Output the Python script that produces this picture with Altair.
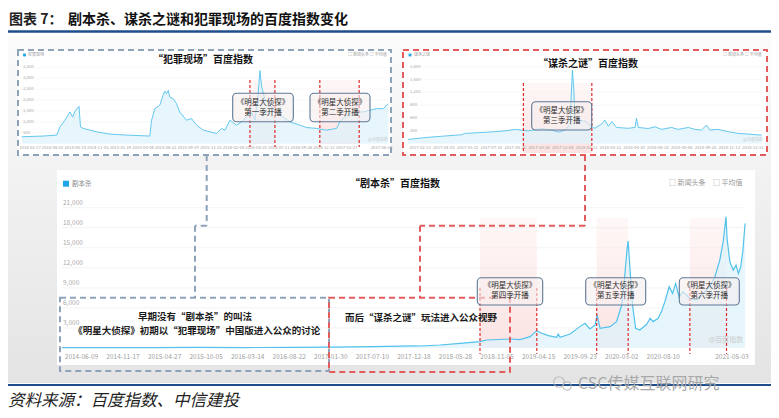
import altair as alt
import pandas as pd

# ------------------------------------------------------------------ data
crime_dates = ["2014-02-17", "2014-02-22", "2014-05-01", "2014-06-16", "2014-06-27", "2014-07-14",
               "2014-07-31", "2014-08-09", "2014-08-19", "2014-08-31", "2014-09-05", "2014-09-14",
               "2014-10-30", "2014-12-14", "2015-02-09", "2015-04-29", "2015-05-05", "2015-05-16",
               "2015-06-02", "2015-06-13", "2015-06-19", "2015-06-25", "2015-07-01", "2015-07-06",
               "2015-07-18", "2015-07-29", "2015-08-09", "2015-09-01", "2015-09-18", "2015-10-05",
               "2015-10-28", "2015-11-20", "2015-12-12", "2015-12-29", "2016-01-10", "2016-01-27",
               "2016-02-18", "2016-03-06", "2016-03-23", "2016-04-09", "2016-04-21", "2016-05-02",
               "2016-05-08", "2016-05-14", "2016-05-25", "2016-06-11", "2016-07-04", "2016-07-26",
               "2016-08-18", "2016-09-21", "2016-10-14", "2016-11-17", "2016-12-21", "2017-01-24",
               "2017-02-04", "2017-02-27", "2017-04-02", "2017-04-25", "2017-05-17", "2017-06-09",
               "2017-07-02", "2017-07-19"]
crime_values = [320, 320, 350, 395, 770, 1075,
                1455, 1225, 1530, 1710, 770, 700,
                545, 440, 395, 350, 1075, 1605,
                1760, 2210, 2410, 2290, 2440, 2135,
                2060, 1835, 1455, 1075, 1150, 850,
                620, 545, 470, 700, 620, 1075,
                850, 1000, 1225, 1455, 1075, 2290,
                3350, 2590, 2060, 1760, 1455, 1225,
                1000, 850, 740, 700, 620, 700,
                1000, 1300, 1455, 1455, 1530, 1605,
                1605, 1835]

murder_dates = ["2017-01-19", "2017-03-02", "2017-04-05", "2017-05-10", "2017-05-16", "2017-07-03",
                "2017-08-07", "2017-08-28", "2017-09-24", "2017-10-22", "2017-11-11", "2017-11-25",
                "2017-12-09", "2017-12-19", "2017-12-22", "2017-12-24", "2017-12-27", "2017-12-29",
                "2018-01-08", "2018-01-22", "2018-02-01", "2018-02-08", "2018-02-22", "2018-03-01",
                "2018-03-08", "2018-03-15", "2018-03-25", "2018-04-18", "2018-05-02", "2018-05-05",
                "2018-05-09", "2018-05-29", "2018-06-12", "2018-06-26", "2018-07-16", "2018-07-30",
                "2018-08-20", "2018-09-02", "2018-09-16", "2018-09-26", "2018-10-03", "2018-10-20",
                "2018-11-10", "2018-12-01", "2018-12-21", "2019-01-18"]
murder_values = [100, 150, 180, 210, 240, 270,
                 300, 335, 300, 350, 320, 270,
                 320, 435, 1250, 1720, 1250, 630,
                 550, 515, 400, 360, 460, 550,
                 410, 515, 380, 360, 380, 590,
                 380, 355, 395, 335, 380, 335,
                 380, 335, 320, 435, 320, 335,
                 280, 240, 225, 200]

jbs_dates = ["2014-03-26", "2014-09-01", "2015-03-01", "2015-09-01", "2016-03-01", "2016-09-01",
             "2017-01-30", "2017-07-10", "2017-12-18", "2018-01-10", "2018-03-29", "2018-06-15",
             "2018-08-31", "2018-09-26", "2018-12-25", "2019-02-02", "2019-03-13", "2019-04-08",
             "2019-04-27", "2019-05-23", "2019-06-24", "2019-06-30", "2019-07-07", "2019-08-15",
             "2019-09-22", "2019-10-12", "2019-10-31", "2019-11-20", "2019-11-28", "2019-12-09",
             "2020-01-17", "2020-02-11", "2020-03-02", "2020-03-14", "2020-03-23", "2020-03-27",
             "2020-04-02", "2020-04-13", "2020-04-25", "2020-05-11", "2020-06-07", "2020-06-20",
             "2020-07-02", "2020-07-21", "2020-08-03", "2020-08-16", "2020-09-02", "2020-09-15",
             "2020-09-27", "2020-10-10", "2020-10-26", "2020-11-21", "2020-12-17", "2021-01-11",
             "2021-02-06", "2021-02-26", "2021-03-17", "2021-03-30", "2021-04-10", "2021-04-14",
             "2021-04-25", "2021-05-08", "2021-05-19", "2021-05-28", "2021-06-06", "2021-06-14",
             "2021-06-23"]
jbs_values = [60, 70, 60, 80, 70, 90,
              120, 220, 330, 300, 450, 700,
              950, 1200, 1350, 1250, 1700, 2600,
              2200, 1850, 1600, 2100, 1600, 2100,
              3200, 3700, 2850, 3450, 4940, 2950,
              3200, 3950, 6430, 10920, 14900, 16000,
              12400, 6430, 2950, 2700, 3550, 4450,
              3950, 4450, 5450, 6930, 9170, 8180,
              9670, 7680, 8430, 7430, 7180, 8180,
              9170, 10670, 13160, 15900, 19640, 16400,
              12910, 11660, 12410, 11160, 12160, 14400,
              18650]

crime_xticks = ["2014-03-17", "2014-06-02", "2014-08-18", "2014-11-03", "2015-01-19", "2015-04-06",
                "2015-06-22", "2015-09-07", "2015-11-23", "2016-02-08", "2016-04-25", "2016-07-11",
                "2016-09-26", "2016-12-12", "2017-02-27", "2017-06-26"]
murder_xticks = ["2017-02-13", "2017-04-03", "2017-05-22", "2017-07-10", "2017-08-28", "2017-10-16",
                 "2017-12-04", "2018-01-22", "2018-03-12", "2018-04-30", "2018-06-18", "2018-08-06",
                 "2018-09-24", "2018-11-12", "2018-12-31"]
jbs_xticks = ["2014-06-09", "2014-11-17", "2015-04-27", "2015-10-05", "2016-03-14", "2016-08-22",
              "2017-01-30", "2017-07-10", "2017-12-18", "2018-05-28", "2018-11-05", "2019-04-15",
              "2019-09-23", "2020-03-02", "2020-08-10", "2021-05-03"]

crime_yticks = [500, 1000, 1500, 2000, 2500, 3000, 3500]
murder_yticks = [300, 600, 900, 1200, 1500, 1800]
jbs_yticks = [3000, 6000, 9000, 12000, 15000, 18000, 21000]

crime_seasons = [("2016-04-04", "2016-06-28"), ("2016-11-28", "2017-04-11")]
murder_seasons = [("2017-09-14", "2018-02-02")]
jbs_seasons = [("2018-08-31", "2019-04-08"), ("2019-11-26", "2020-03-27"), ("2020-11-21", "2021-04-12")]

crime_season_names = ["第一季开播", "第二季开播"]
murder_season_names = ["第三季开播"]
jbs_season_names = ["第四季开播", "第五季开播", "第六季开播"]

# ------------------------------------------------------------------ style
FONT = "Noto Sans CJK SC"
LINE = "#52c2ec"
AREA = "#def3fb"
RED = "#e02a2a"
BLUE_DASH = "#8ea2ba"
RED_DASH = "#e35b5b"
W, H = 763, 402
ONE = pd.DataFrame({"k": [0]})


def dt(s):
    y, m, d = (int(v) for v in s.split("-"))
    return alt.DateTime(year=y, month=m, date=d, utc=True)


def vbox(x1, y1, x2, y2, **kw):
    return alt.Chart(ONE).mark_rect(**kw).encode(
        x=alt.value(x1), x2=alt.value(x2), y=alt.value(y1), y2=alt.value(y2))


def seg(x1, y1, x2, y2, **kw):
    return alt.Chart(ONE).mark_rule(**kw).encode(
        x=alt.value(x1), x2=alt.value(x2), y=alt.value(y1), y2=alt.value(y2))


def txt(x, y, s, size, **kw):
    kw.setdefault("font", FONT)
    kw.setdefault("baseline", "middle")
    return alt.Chart(ONE).mark_text(text=s, fontSize=size, **kw).encode(
        x=alt.value(x), y=alt.value(y))


def grad(c0, c1):
    return alt.LinearGradient(gradient="linear",
                              stops=[alt.GradientStop(color=c0, offset=0),
                                     alt.GradientStop(color=c1, offset=1)],
                              x1=0, x2=0, y1=0, y2=1)


def panel(dates, values, xdom, xrng, ydom, yrng, xticks, yticks, seasons,
          grid_x, ylab_x, ylab_dy, ylab_fs, xlab_y, xlab_fs, shade_y, cut_y, lw, grid_col):
    xs = alt.Scale(type="utc", domain=[dt(xdom[0]), dt(xdom[1])], range=xrng, nice=False)
    ys = alt.Scale(domain=ydom, range=yrng, nice=False, zero=False)

    def X(f):
        return alt.X(f, type="temporal", scale=xs, axis=None)

    def Y(f):
        return alt.Y(f, type="quantitative", scale=ys, axis=None)

    series = pd.DataFrame({"date": dates, "value": values})
    grid = pd.DataFrame({"tick": yticks, "label": [f"{t:,}" for t in yticks]})
    xt = pd.DataFrame({"date": xticks, "label": xticks})
    sh = pd.DataFrame({"start": [a for a, b in seasons], "end": [b for a, b in seasons]})
    cuts = pd.DataFrame({"date": [d for pair in seasons for d in pair]})

    shade = alt.Chart(sh).mark_rect(fill=grad("#fff6f6", "#fbdede"), opacity=0.85).encode(
        x=X("start"), x2="end", y=alt.value(shade_y[0]), y2=alt.value(shade_y[1]))
    gridr = alt.Chart(grid).mark_rule(color=grid_col, strokeWidth=0.6).encode(
        y=Y("tick"), x=alt.value(grid_x[0]), x2=alt.value(grid_x[1]))
    area = alt.Chart(series).mark_area(color=AREA, opacity=0.75).encode(x=X("date"), y=Y("value"))
    line = alt.Chart(series).mark_line(color=LINE, strokeWidth=lw).encode(x=X("date"), y=Y("value"))
    ylab = alt.Chart(grid).mark_text(align="left", baseline="middle", dy=ylab_dy, fontSize=ylab_fs,
                                     color="#aaaaaa", font=FONT).encode(
        y=Y("tick"), x=alt.value(ylab_x), text="label:N")
    xlab = alt.Chart(xt).mark_text(baseline="middle", fontSize=xlab_fs, color="#a0a0a0",
                                   font=FONT).encode(
        x=X("date"), y=alt.value(xlab_y), text="label:N")
    cut = alt.Chart(cuts).mark_rule(color=RED, strokeDash=[3, 2], strokeWidth=1.2).encode(
        x=X("date"), y=alt.value(cut_y[0]), y2=alt.value(cut_y[1]))
    return alt.layer(shade, gridr, area, line, ylab, xlab, cut)


panel_crime = panel(crime_dates, crime_values, ("2014-03-17", "2017-06-26"), [22, 373.5],
                    [0, 3500], [135.7, 59.3], crime_xticks, crime_yticks, crime_seasons,
                    (12, 381), 15, 0, 4.2, 140, 4.2, (72, 136), (72, 139), 0.9, "#f3f3f3")
panel_murder = panel(murder_dates, murder_values, ("2017-02-13", "2018-12-31"), [412, 745],
                     [0, 1800], [135.7, 58.7], murder_xticks, murder_yticks, murder_seasons,
                     (399, 754), 402, 0, 4.2, 140, 4.2, (75, 145), (75, 145), 0.9, "#f3f3f3")
panel_jbs = panel(jbs_dates, jbs_values, ("2014-03-26", "2021-06-23"), [54.1, 737.1],
                  [0, 21000], [340, 199.7], jbs_xticks, jbs_yticks, jbs_seasons,
                  (54, 737), 55, -4.5, 6.5, 349, 6.5, (210, 340), (280, 346), 1.2, "#ececec")

# ------------------------------------------------------------------ decorations
background = [
    vbox(0, 28, W, 375, fill=grad("#fbfbfb", "#e4e4e4")),
    seg(0, 23.5, W, 23.5, color="#1f4e8c", strokeWidth=2.5),
    seg(0, 377, W, 377, color="#1f4e8c", strokeWidth=2),
    txt(1, 11.5, "图表 7：", 14, align="left", fontWeight="bold", color="#222222"),
    txt(60, 11.5, "剧本杀、谋杀之谜和犯罪现场的百度指数变化", 14, align="left", fontWeight="bold",
        color="#111111"),
    txt(0, 393, "资料来源：百度指数、中信建投", 16.5, align="left", fontStyle="italic",
        color="#222222"),
    vbox(10, 42, 383, 147, fill="white", stroke=BLUE_DASH, strokeWidth=2, strokeDash=[6, 4]),
    vbox(395, 42, 759, 147, fill="white", stroke=RED_DASH, strokeWidth=2, strokeDash=[6, 4]),
    vbox(49, 162, 747, 357, fill="white"),
]

legends = [
    # crime panel
    alt.Chart(ONE).mark_square(size=8, color="#1ea7e8", opacity=1).encode(
        x=alt.value(16.5), y=alt.value(47)),
    txt(20, 47, "犯罪现场", 4, align="left", color="#999999"),
    txt(340, 47, "□ 新闻头条   □ 平均值", 4, align="left", color="#999999"),
    txt(195, 52, "“犯罪现场”百度指数", 10, fontWeight="bold", color="#111111"),
    txt(370, 132, "@百度指数", 4, color="#cccccc"),
    # murder panel
    alt.Chart(ONE).mark_square(size=8, color="#1ea7e8", opacity=1).encode(
        x=alt.value(402), y=alt.value(47)),
    txt(406, 47, "谋杀之谜", 4, align="left", color="#999999"),
    txt(715, 47, "□ 新闻头条   □ 平均值", 4, align="left", color="#999999"),
    txt(580, 56, "“谋杀之谜”百度指数", 10, fontWeight="bold", color="#111111"),
    txt(745, 132, "@百度指数", 4, color="#cccccc"),
    # jbs panel
    alt.Chart(ONE).mark_square(size=36, color="#1ea7e8", opacity=1).encode(
        x=alt.value(58), y=alt.value(175.7)),
    txt(64, 175.7, "剧本杀", 6.5, align="left", color="#888888"),
    txt(661, 175.3, "□ 新闻头条", 7, align="left", color="#999999"),
    txt(705, 175.3, "□ 平均值", 7, align="left", color="#999999"),
    txt(387, 176, "“剧本杀”百度指数", 10, fontWeight="bold", color="#111111"),
    txt(718, 332, "@百度指数", 7, color="#cccccc"),
]

dash = dict(strokeWidth=2, strokeDash=[6, 4])
connectors = [
    seg(198.7, 147, 198.7, 217.7, color=BLUE_DASH, **dash),
    seg(198.7, 217.7, 187, 217.7, color=BLUE_DASH, **dash),
    seg(187, 217.7, 187, 289.7, color=BLUE_DASH, **dash),
    vbox(52, 289.7, 321, 363, fillOpacity=0, stroke=BLUE_DASH, **dash),
    seg(577, 147, 577, 217.7, color=RED_DASH, **dash),
    seg(577, 217.7, 412, 217.7, color=RED_DASH, **dash),
    seg(412, 217.7, 412, 289.7, color=RED_DASH, **dash),
    vbox(321, 289.7, 502, 364, fillOpacity=0, stroke=RED_DASH, **dash),
    txt(187, 309.3, "早期没有“剧本杀”的叫法", 9.5, fontWeight="bold", color="#1a1a1a"),
    txt(188.7, 322.5, "《明星大侦探》初期以“犯罪现场”中国版进入公众的讨论", 9.5, fontWeight="bold",
        color="#1a1a1a"),
    txt(413, 310.3, "而后“谋杀之谜”玩法进入公众视野", 9.5, fontWeight="bold", color="#1a1a1a"),
]

box_style = dict(fill="#f6eeee", fillOpacity=0.6, stroke="#5f7896", strokeWidth=1.1, cornerRadius=4)
boxes = []
for (x1, x2, y1, y2), name in zip(
        [(224.7, 285.3, 85.3, 113.7), (302, 362, 85.3, 113.7),
         (523.7, 583.7, 93.7, 122), (469.3, 534.7, 269.7, 297),
         (577.7, 637.7, 269.7, 297), (671.3, 731.3, 269.7, 297)],
        crime_season_names + murder_season_names + jbs_season_names):
    cx = (x1 + x2) / 2
    cy = (y1 + y2) / 2
    boxes.append(vbox(x1, y1, x2, y2, **box_style))
    boxes.append(txt(cx, cy - 5, "《明星大侦探》", 7.5, color="#2a2a2a"))
    boxes.append(txt(cx, cy + 5, name, 7.5, color="#2a2a2a"))

watermark = [
    alt.Chart(ONE).mark_point(shape="circle", size=110, filled=False, color="#b0b0b0",
                              strokeWidth=1.2).encode(x=alt.value(551), y=alt.value(374)),
    alt.Chart(ONE).mark_point(shape="circle", size=70, filled=False, color="#b0b0b0",
                              strokeWidth=1.2).encode(x=alt.value(559), y=alt.value(378)),
    txt(570, 375.5, "CSC传媒互联网研究", 16, align="left", color="#a8a8a8"),
]

chart = alt.layer(
    *background, panel_crime, panel_murder, panel_jbs, *legends, *connectors, *boxes, *watermark
).resolve_scale(x="independent", y="independent").properties(
    width=W, height=H, padding=0, autosize=alt.AutoSizeParams(type="none")
).configure_view(stroke=None)

chart.save("out.html", embed_options={"renderer": "svg", "actions": False})
